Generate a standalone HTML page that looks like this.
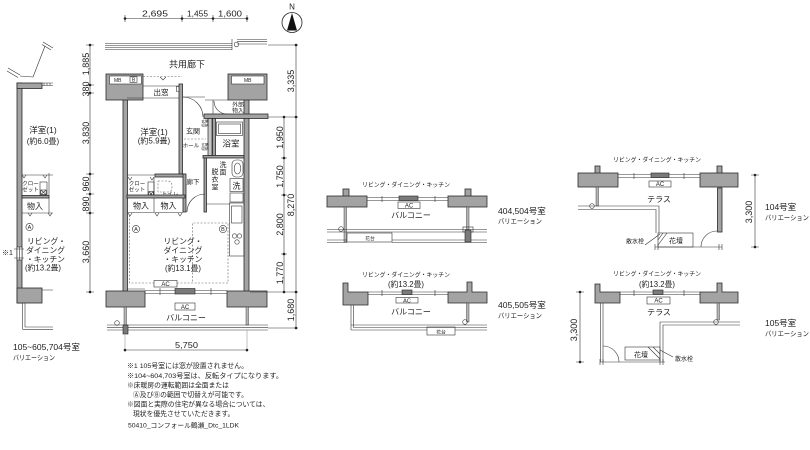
<!DOCTYPE html>
<html><head><meta charset="utf-8">
<style>
html,body{margin:0;padding:0;background:#fff;}
svg{display:block;}
text{font-family:"Liberation Sans","Noto Sans CJK JP",sans-serif;fill:#222;}
.m{text-anchor:middle;}
.g{fill:#a3a3a3;stroke:#2a2a2a;stroke-width:.8;}
.l{fill:none;stroke:#333;stroke-width:.6;}
.lt{fill:none;stroke:#999;stroke-width:.6;}
.d{fill:none;stroke:#666;stroke-width:.6;stroke-dasharray:2 1.5;}
.w{fill:#fff;stroke:#333;stroke-width:.6;}
.dk{fill:#7a7a7a;stroke:#222;stroke-width:.6;}
.p{fill:#b5b5b5;stroke:#444;stroke-width:.5;}
</style></head><body>
<svg width="810" height="450" viewBox="0 0 810 450" xmlns="http://www.w3.org/2000/svg">

<!-- ===== TOP DIMENSIONS ===== -->
<line x1="125" y1="18.5" x2="247" y2="18.5" class="l"/>
<path d="M125,15V22M182,15V22M213,15V22M247,15V22" class="l"/>
<g fill="#222"><circle cx="125" cy="18.5" r="1.3"/><circle cx="182" cy="18.5" r="1.3"/><circle cx="213" cy="18.5" r="1.3"/><circle cx="247" cy="18.5" r="1.3"/></g>
<text x="142" y="16.5" font-size="8.5" textLength="26" lengthAdjust="spacingAndGlyphs">2,695</text>
<text x="187" y="16.5" font-size="8.5" textLength="21" lengthAdjust="spacingAndGlyphs">1,455</text>
<text x="218" y="16.5" font-size="8.5" textLength="24" lengthAdjust="spacingAndGlyphs">1,600</text>

<!-- North -->
<text x="292" y="9.5" font-size="8" class="m">N</text>
<circle cx="292" cy="22.5" r="10" fill="none" stroke="#222" stroke-width=".8"/>
<polygon points="292,13 287,30.5 297,30.5" fill="#111"/>

<!-- ===== MAIN PLAN ===== -->
<path d="M105,43.5H232M105,45.5H232M105,47.5H232M105,49.5H232" class="l"/>
<path d="M232,39V50M237,39.5H267M237,41.7H267M237,44H267" class="l"/>
<circle cx="236.5" cy="44.5" r="2.3" class="l"/>
<text x="187" y="67.5" font-size="9" class="m">共用廊下</text>

<rect x="123" y="96" width="4.5" height="196" class="g"/>
<rect x="244" y="96" width="5" height="196" class="g"/>
<rect x="106" y="74" width="37" height="26" class="g"/>
<rect x="109.5" y="76" width="32" height="8" class="w"/>
<text x="114" y="82" font-size="5">MB</text>
<rect x="130" y="76.8" width="7" height="5.5" class="w"/>
<text x="133.5" y="81.6" font-size="5" class="m">B</text>
<rect x="228" y="74" width="39" height="26" class="g"/>
<rect x="231.5" y="76" width="32.5" height="8" class="w"/>
<text x="247.75" y="82" font-size="5" class="m">MB</text>
<rect x="204" y="114" width="64" height="4.5" class="g"/>

<path d="M143,76.5H182" class="d"/>
<path d="M143,86H180M127,98H180M176.5,86.5h3.5v5h-3.5z" class="l"/>
<path d="M160,77l3,3 3,-3" class="l"/>
<text x="161" y="95" font-size="7.5" class="m">出窓</text>

<rect x="179" y="84" width="3.5" height="90" class="g"/>
<path d="M183,97 A20,20 0 0 1 203,117" class="l"/>
<path d="M183,97H205" class="l"/>

<path d="M205,100H228M213,100V114" class="l"/>
<path d="M214,101 A13,13 0 0 0 227,114" class="l"/>
<text x="238" y="106.5" font-size="5.8" class="m">外部</text>
<text x="238" y="112.5" font-size="5.8" class="m">物入</text>

<rect x="208" y="118.5" width="4" height="37" fill="#c8c8c8" stroke="#222" stroke-width=".7"/>
<text x="193" y="133.5" font-size="7" class="m">玄関</text>
<text x="191" y="147.5" font-size="5.5" class="m">ホール</text>
<path d="M184,139H206" class="d"/>
<text x="205" y="122.5" font-size="3.6" class="m">玄関</text>
<text x="205" y="126.5" font-size="3.6" class="m">収納</text>
<text x="205" y="146" font-size="3.6" class="m">玄関</text>
<text x="205" y="150" font-size="3.6" class="m">収納</text>

<rect x="212.5" y="118.5" width="3" height="38" class="g"/>
<rect x="216.5" y="122" width="26" height="13.5" class="l"/>
<rect x="218.5" y="124" width="22" height="9.5" class="l"/>
<text x="231" y="146.5" font-size="8.5" class="m">浴室</text>
<rect x="203" y="155.5" width="41" height="2.5" class="g"/>
<rect x="204" y="158" width="2.5" height="54" class="g"/>

<rect x="232" y="160" width="11" height="17" rx="4" class="l"/>
<ellipse cx="237.5" cy="168.5" rx="3.3" ry="5.5" class="l"/>
<rect x="230" y="178.5" width="13" height="13" class="l"/>
<text x="236.5" y="188.5" font-size="8" class="m">洗</text>
<text x="223" y="167" font-size="7" class="m">洗</text>
<text x="223" y="174.5" font-size="7" class="m">面</text>
<text x="215" y="174" font-size="7" class="m">脱</text>
<text x="215" y="181.5" font-size="7" class="m">衣</text>
<text x="215" y="189.5" font-size="7" class="m">室</text>
<rect x="230" y="193" width="13" height="9" class="l"/>
<path d="M206,204H230" class="l"/>
<text x="193" y="184" font-size="6.5" class="m">廊下</text>

<path d="M127,175H155" class="l"/>
<rect x="155" y="174" width="30" height="3" class="g"/>
<rect x="183" y="174" width="3" height="38" class="g"/>
<path d="M154,177V197" class="l"/>
<rect x="148" y="182" width="6" height="15" class="l"/>
<rect x="148.8" y="191.5" width="4.5" height="4.5" class="l"/>
<path d="M148.8,191.5l4.5,4.5M153.3,191.5l-4.5,4.5" class="l"/>
<text x="137" y="185.5" font-size="5.5" class="m">クロー</text>
<text x="137" y="191.5" font-size="5.5" class="m">ゼット</text>
<path d="M158,181h10q4,0 4,5.5q0,5.5 -4,5.5h-10z" class="d"/>
<text x="170" y="196" font-size="5.5" class="m">トイレ</text>
<path d="M128,177l2,3 2,-3M150,177l2,3 2,-3" class="l"/>
<rect x="127" y="195" width="58" height="3" class="g"/>
<path d="M154,198V212" class="l"/>
<text x="141" y="208.5" font-size="8" class="m">物入</text>
<text x="168.5" y="208.5" font-size="8" class="m">物入</text>
<path d="M127,212.5H183" class="l"/>
<path d="M128,213l2,3 2,-3M155,213l2,3 2,-3M178,213l2,3 2,-3" class="l"/>
<path d="M205,194 A18,18 0 0 0 187,212" class="l"/>

<path d="M129.5,215V283H154M177,283H228V223H192.5V283" class="d"/>
<circle cx="136" cy="229" r="3.6" class="l"/>
<text x="136" y="231.2" font-size="5.5" class="m">A</text>
<circle cx="223" cy="229" r="3.6" class="l"/>
<text x="223" y="231.2" font-size="5.5" class="m">B</text>
<text x="183" y="244" font-size="7.8" class="m">リビング・</text>
<text x="183" y="253" font-size="7.8" class="m">ダイニング</text>
<text x="183" y="262" font-size="7.8" class="m">・キッチン</text>
<text x="183" y="271" font-size="7.8" class="m">(約13.1畳)</text>
<rect x="229.5" y="203" width="14.5" height="53" class="l"/>
<rect x="231.5" y="206" width="10.5" height="17" class="l"/>
<circle cx="234.5" cy="236" r="2.2" class="l"/>
<circle cx="239.5" cy="236" r="2.2" class="l"/>
<circle cx="237" cy="242" r="2.2" class="l"/>
<rect x="154" y="280.5" width="23" height="6.5" class="w"/>
<text x="165.5" y="286" font-size="6" class="m">AC</text>

<path d="M127,289H145M145,290.5H227M145,293.5H227" class="l"/>
<rect x="175" y="288.5" width="20" height="5.5" class="dk"/>
<path d="M160,288V295M211,288V295" class="l"/>

<rect x="106" y="291" width="39" height="16" class="g"/>
<rect x="227" y="291" width="40" height="16" class="g"/>
<rect x="175" y="303" width="20" height="7" class="w"/>
<text x="185" y="308.8" font-size="6" class="m">AC</text>
<text x="186" y="320.5" font-size="8" class="m">バルコニー</text>
<rect x="124" y="307" width="2.5" height="18" class="p"/>
<rect x="246" y="307" width="2.5" height="18" class="p"/>
<path d="M107,325H268M107,327.3H268M107,330H268" class="l"/>
<rect x="123" y="325" width="5" height="9" class="dk"/>
<circle cx="117" cy="323" r="2.3" class="l"/>
<path d="M125,334V352M247,330V352" class="lt"/>

<line x1="125" y1="350" x2="247" y2="350" class="l"/>
<g fill="#222"><circle cx="125" cy="350" r="1.3"/><circle cx="247" cy="350" r="1.3"/></g>
<text x="175" y="348" font-size="8.5" textLength="23" lengthAdjust="spacingAndGlyphs">5,750</text>

<line x1="90" y1="45" x2="90" y2="292" class="l"/>
<path d="M86,45H94M86,85H94M86,93H94M86,174H94M86,194H94M86,213H94M86,292H94" class="l"/>
<g fill="#222"><circle cx="90" cy="45" r="1.3"/><circle cx="90" cy="85" r="1.3"/><circle cx="90" cy="93" r="1.3"/><circle cx="90" cy="174" r="1.3"/><circle cx="90" cy="194" r="1.3"/><circle cx="90" cy="213" r="1.3"/><circle cx="90" cy="292" r="1.3"/></g>
<text transform="translate(89,64) rotate(-90)" font-size="9" class="m">1,885</text>
<text transform="translate(89,89) rotate(-90)" font-size="9" class="m">380</text>
<text transform="translate(89,133) rotate(-90)" font-size="9" class="m">3,830</text>
<text transform="translate(89,184) rotate(-90)" font-size="9" class="m">960</text>
<text transform="translate(89,204) rotate(-90)" font-size="9" class="m">890</text>
<text transform="translate(89,252) rotate(-90)" font-size="9" class="m">3,660</text>

<line x1="284" y1="117" x2="284" y2="292" class="l"/>
<line x1="296" y1="45" x2="296" y2="328" class="l"/>
<path d="M268,45H298M268,117H298M250,292H298M268,328H298M281,158H287M281,195H287M281,254H287" class="l"/>
<g fill="#222"><circle cx="284" cy="117" r="1.3"/><circle cx="284" cy="158" r="1.3"/><circle cx="284" cy="195" r="1.3"/><circle cx="284" cy="254" r="1.3"/><circle cx="284" cy="292" r="1.3"/><circle cx="296" cy="45" r="1.3"/><circle cx="296" cy="117" r="1.3"/><circle cx="296" cy="292" r="1.3"/><circle cx="296" cy="328" r="1.3"/></g>
<text transform="translate(294,81) rotate(-90)" font-size="9" class="m">3,335</text>
<text transform="translate(283,137.5) rotate(-90)" font-size="9" class="m">1,950</text>
<text transform="translate(283,176.5) rotate(-90)" font-size="9" class="m">1,750</text>
<text transform="translate(283,224.5) rotate(-90)" font-size="9" class="m">2,800</text>
<text transform="translate(283,273) rotate(-90)" font-size="9" class="m">1,770</text>
<text transform="translate(294,205) rotate(-90)" font-size="9" class="m">8,270</text>
<text transform="translate(294,310) rotate(-90)" font-size="9" class="m">1,680</text>

<!-- ===== LEFT VARIATION ===== -->
<path d="M43,42L53,48M45,46L33,77M8,68L20,75M20,76L33,77" class="l"/>
<path d="M42,44.5L51,50M7,71L18,77.5" class="l"/>
<rect x="17" y="83" width="5" height="220" class="g"/>
<rect x="17" y="83" width="25" height="5.5" class="g"/>
<path d="M42,83H53M42,85.5H53M44,83V85.5M47,83V85.5M50,83V85.5" class="l"/>
<rect x="17" y="247" width="5" height="13" fill="#fff" stroke="#222" stroke-width=".6"/>
<path d="M19.5,247V260M14,249H24M14,258H24" class="l"/>
<text x="2" y="255" font-size="7">※1</text>
<path d="M22,175H53M49,173V213M22,213H53M22,290H53M42,290H53" class="l"/>
<path d="M22,175l2,3 2,-3M43,175l2,3 2,-3M28,213l2,3 2,-3M48,213l2,3 2,-3" class="l"/>
<rect x="22" y="195.5" width="27" height="2.5" class="g"/>
<rect x="40" y="182" width="7" height="13" class="l"/>
<rect x="40.8" y="190" width="5.4" height="4.5" class="l"/>
<path d="M40.8,190l5.4,4.5M46.2,190l-5.4,4.5" class="l"/>
<text x="43" y="133" font-size="8.5" class="m">洋室(1)</text>
<text x="43" y="144" font-size="8" class="m">(約6.0畳)</text>
<text x="154" y="135" font-size="8.5" class="m">洋室(1)</text>
<text x="154" y="143.5" font-size="8" class="m">(約5.9畳)</text>
<text x="30.5" y="185.5" font-size="5.5" class="m">クロー</text>
<text x="30.5" y="191.5" font-size="5.5" class="m">ゼット</text>
<text x="35" y="209" font-size="8" class="m">物入</text>
<circle cx="29.5" cy="227" r="3.6" class="l"/>
<text x="29.5" y="229.2" font-size="5.5" class="m">A</text>
<text x="27" y="244" font-size="7.8">リビング・</text>
<text x="26" y="253" font-size="7.8">ダイニング</text>
<text x="26" y="262" font-size="7.8">・キッチン</text>
<text x="25" y="270.5" font-size="7.8">(約13.2畳)</text>
<rect x="17" y="288" width="25" height="15" class="g"/>
<path d="M22.7,303V329.3H53M25,303V327H53" class="l"/>
<text x="13" y="350" font-size="8.5">105~605,704号室</text>
<text x="13" y="360" font-size="7" textLength="42" lengthAdjust="spacingAndGlyphs">バリエーション</text>

<!-- ===== NOTES ===== -->
<text x="127" y="368" font-size="6.8" textLength="121" lengthAdjust="spacingAndGlyphs">※1 105号室には窓が設置されません。</text>
<text x="127" y="378" font-size="6.8" textLength="156" lengthAdjust="spacingAndGlyphs">※104~604,703号室は、反転タイプになります。</text>
<text x="127" y="387.5" font-size="6.8">※床暖房の運転範囲は全面または</text>
<text x="133" y="397" font-size="6.8">Ⓐ及びⒷの範囲で切替えが可能です。</text>
<text x="127" y="406.5" font-size="6.8">※図面と実際の住宅が異なる場合については、</text>
<text x="133" y="416" font-size="6.8">現状を優先させていただきます。</text>
<text x="128" y="427.5" font-size="6.5" textLength="111" lengthAdjust="spacingAndGlyphs">50410_コンフォール鶴瀬_Dtc_1LDK</text>

<!-- ===== MIDDLE VARIATION 1 (404,504) ===== -->
<text x="406" y="187" font-size="6.2" class="m" textLength="88" lengthAdjust="spacingAndGlyphs">リビング・ダイニング・キッチン</text>
<rect x="343" y="189" width="6" height="8" class="g"/>
<rect x="465" y="189" width="6" height="8" class="g"/>
<rect x="327" y="196" width="40" height="11" class="g"/>
<rect x="448" y="196" width="39" height="11" class="g"/>
<path d="M367,197.5H448M367,200.5H448M382,196V202M435,196V202" class="l"/>
<rect x="399" y="196" width="19" height="4.5" class="dk"/>
<rect x="398" y="202" width="22" height="6.5" class="w"/>
<text x="409" y="207.5" font-size="6" class="m">AC</text>
<text x="411" y="218" font-size="8" class="m">バルコニー</text>
<rect x="344" y="207" width="2.5" height="35" class="p"/>
<rect x="466.5" y="207" width="2.5" height="23" class="p"/>
<path d="M327,229.5H487M327,232H487M327,240H347M392,240H487M327,242.5H347M392,242.5H487" class="l"/>
<rect x="347" y="233" width="45" height="9" class="l"/>
<text x="370" y="239.8" font-size="4.8" class="m">花台</text>
<circle cx="341" cy="229" r="2.3" class="l"/>
<rect x="463" y="227" width="10" height="5" class="l"/>
<rect x="465" y="230" width="6" height="12" class="dk"/>
<text x="498" y="214" font-size="8.5">404,504号室</text>
<text x="498" y="223.5" font-size="7" textLength="44" lengthAdjust="spacingAndGlyphs">バリエーション</text>

<!-- ===== MIDDLE VARIATION 2 (405,505) ===== -->
<text x="406" y="277" font-size="6.2" class="m" textLength="88" lengthAdjust="spacingAndGlyphs">リビング・ダイニング・キッチン</text>
<text x="406" y="287" font-size="7.8" class="m">(約13.2畳)</text>
<path d="M343,283H348V292H368V305H343Z" class="g"/>
<path d="M448,292H467V282H472V292H487V303H448Z" class="g"/>
<path d="M368,292H448M368,294.5H448M382,290V296M435,290V296" class="l"/>
<rect x="402" y="290" width="10" height="4.5" class="dk"/>
<rect x="396" y="297.5" width="22" height="5.5" class="w"/>
<text x="407" y="302.3" font-size="5.5" class="m">AC</text>
<text x="411" y="314.5" font-size="8" class="m">バルコニー</text>
<path d="M351,305V330M353.5,305V327.5" class="l"/>
<rect x="466.5" y="303" width="2.5" height="19" class="p"/>
<path d="M351,325H487M353.5,327.5H487M351,330H427M455,330H487" class="l"/>
<rect x="427" y="327" width="28" height="8" class="l"/>
<text x="441" y="333.3" font-size="4.8" class="m">花台</text>
<circle cx="465" cy="322" r="2.3" class="l"/>
<text x="498" y="308" font-size="8.5">405,505号室</text>
<text x="498" y="318" font-size="7" textLength="44" lengthAdjust="spacingAndGlyphs">バリエーション</text>

<!-- ===== RIGHT VARIATION 1 (104) ===== -->
<text x="657" y="162" font-size="6.2" class="m" textLength="88" lengthAdjust="spacingAndGlyphs">リビング・ダイニング・キッチン</text>
<rect x="595" y="166" width="5" height="8" class="g"/>
<rect x="717" y="166" width="5" height="8" class="g"/>
<rect x="578" y="173" width="40" height="14" class="g"/>
<rect x="700" y="173" width="38" height="14" class="g"/>
<path d="M618,174.5H700M618,177.5H700M634,173V179M684,173V179" class="l"/>
<rect x="651" y="173" width="18" height="4.5" class="dk"/>
<rect x="649" y="181" width="22" height="6" class="w"/>
<text x="660" y="186" font-size="6" class="m">AC</text>
<text x="659" y="202" font-size="8" class="m">テラス</text>
<rect x="596" y="187" width="2.5" height="19" class="p"/>
<rect x="717.5" y="188" width="4.5" height="44" class="g"/>
<path d="M701,247 A16,16 0 0 1 717,231" class="l"/>
<path d="M578,206H659V233M578,209.5H656V233" class="l"/>
<circle cx="592" cy="206" r="2.3" class="l"/>
<rect x="658" y="233" width="35" height="14" class="l"/>
<path d="M658,240l5,-7M658,245l9,-12" class="l"/>
<text x="676" y="243" font-size="7" class="m">花壇</text>
<path d="M655,247H722M655,244V250M658,244V250M719,244V250M722,244V250" class="l"/>
<text x="635" y="243.5" font-size="6" class="m">散水栓</text>
<path d="M645,245L660,234" class="l"/>
<line x1="755" y1="175" x2="755" y2="247" class="l"/>
<path d="M751,175H759M751,247H759" class="l"/>
<g fill="#222"><circle cx="755" cy="175" r="1.3"/><circle cx="755" cy="247" r="1.3"/></g>
<text transform="translate(752,212) rotate(-90)" font-size="9" class="m">3,300</text>
<text x="765" y="210" font-size="8.5">104号室</text>
<text x="765" y="220" font-size="7" textLength="44" lengthAdjust="spacingAndGlyphs">バリエーション</text>

<!-- ===== RIGHT VARIATION 2 (105) ===== -->
<text x="657" y="276" font-size="6.2" class="m" textLength="88" lengthAdjust="spacingAndGlyphs">リビング・ダイニング・キッチン</text>
<text x="657" y="287" font-size="7.8" class="m">(約13.2畳)</text>
<path d="M595,284H600V292H620V303H595Z" class="g"/>
<path d="M700,292H717V283H722V292H738V303H700Z" class="g"/>
<path d="M620,292H700M620,294.5H700M634,290V296M684,290V296" class="l"/>
<rect x="653" y="290" width="10" height="4.5" class="dk"/>
<rect x="647" y="297" width="23" height="7" class="w"/>
<text x="658.5" y="302.5" font-size="6" class="m">AC</text>
<text x="659" y="315" font-size="8" class="m">テラス</text>
<path d="M600.5,303V362M603,303V362" class="l"/>
<path d="M603,346 A16,16 0 0 1 619,362" class="l"/>
<rect x="717" y="303" width="2.5" height="17" class="p"/>
<path d="M740,322H660V362M740,325H663V362" class="l"/>
<circle cx="716" cy="322" r="2.3" class="l"/>
<rect x="625" y="347" width="35" height="13" class="l"/>
<path d="M653,347l7,7M648,347l12,12" class="l"/>
<text x="641" y="357" font-size="7" class="m">花壇</text>
<text x="684" y="361" font-size="6" class="m">散水栓</text>
<path d="M660,350L673,357" class="l"/>
<path d="M600,362H665M600,359V365M603,359V365M660,359V365M663,359V365" class="l"/>
<line x1="580" y1="292" x2="580" y2="362" class="l"/>
<path d="M576,292H584M576,362H584" class="l"/>
<g fill="#222"><circle cx="580" cy="292" r="1.3"/><circle cx="580" cy="362" r="1.3"/></g>
<text transform="translate(577,330) rotate(-90)" font-size="9" class="m">3,300</text>
<text x="765" y="326" font-size="8.5">105号室</text>
<text x="765" y="336" font-size="7" textLength="44" lengthAdjust="spacingAndGlyphs">バリエーション</text>

</svg>
</body></html>
